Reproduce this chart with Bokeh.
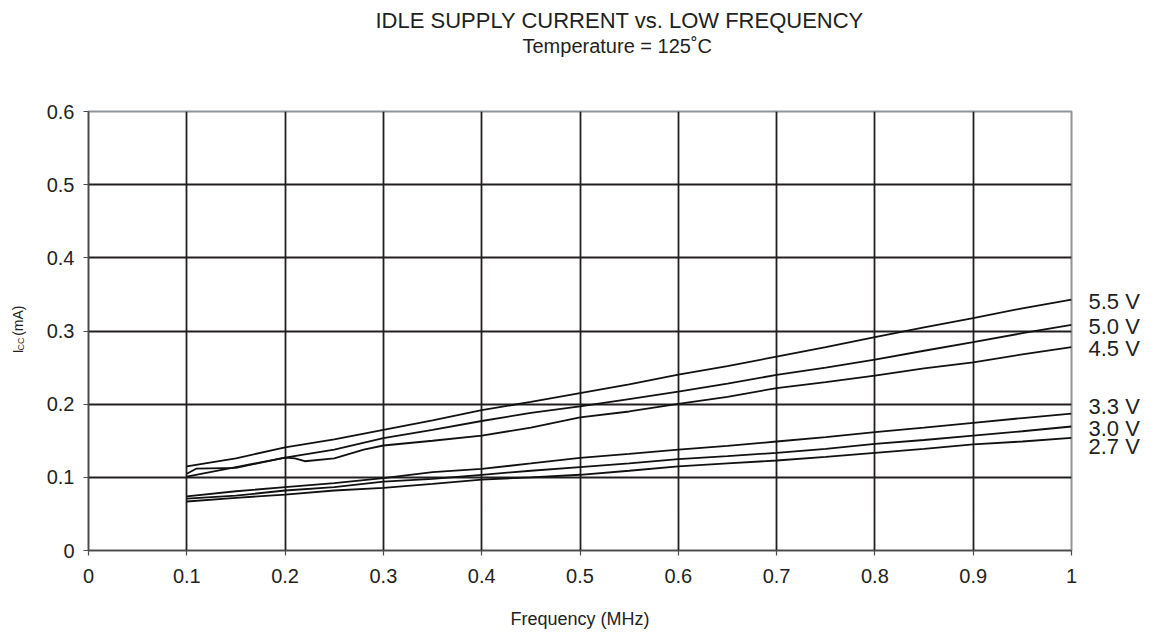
import math
from bokeh.plotting import figure
from bokeh.models import Range1d, FixedTicker, Label, LinearAxis, Title
from bokeh.layouts import row
from bokeh.embed import file_html
from bokeh.resources import INLINE

# ---------------- data ----------------
title_text = "IDLE SUPPLY CURRENT vs. LOW FREQUENCY"
subtitle_text = "Temperature = 125\u02daC"
x_label = "Frequency (MHz)"

x_ticks = [0, 0.1, 0.2, 0.3, 0.4, 0.5, 0.6, 0.7, 0.8, 0.9, 1]
x_tick_labels = ["0", "0.1", "0.2", "0.3", "0.4", "0.5", "0.6", "0.7", "0.8", "0.9", "1"]
y_ticks = [0, 0.1, 0.2, 0.3, 0.4, 0.5, 0.6]
y_tick_labels = ["0", "0.1", "0.2", "0.3", "0.4", "0.5", "0.6"]

freq = [0.1, 0.15, 0.2, 0.25, 0.3, 0.35, 0.4, 0.45, 0.5, 0.55, 0.6,
        0.65, 0.7, 0.75, 0.8, 0.85, 0.9, 0.95, 1.0]
i_55 = [0.115, 0.126, 0.141, 0.152, 0.165, 0.178, 0.192, 0.203, 0.215, 0.227, 0.2405,
        0.252, 0.265, 0.278, 0.2915, 0.305, 0.3175, 0.331, 0.343]
i_50 = [0.101, 0.114, 0.127, 0.138, 0.1535, 0.165, 0.177, 0.188, 0.197, 0.207, 0.217,
        0.228, 0.240, 0.250, 0.261, 0.273, 0.2847, 0.297, 0.3085]
freq_45 = [0.1, 0.11, 0.15, 0.2, 0.21, 0.22, 0.25, 0.28, 0.3, 0.35, 0.4, 0.45, 0.5,
           0.55, 0.6, 0.65, 0.7, 0.75, 0.8, 0.85, 0.9, 0.95, 1.0]
i_45 = [0.105, 0.112, 0.113, 0.127, 0.126, 0.122, 0.126, 0.138, 0.1435, 0.150, 0.157,
        0.168, 0.182, 0.190, 0.2005, 0.210, 0.222, 0.230, 0.239, 0.249, 0.257, 0.268, 0.278]
i_33 = [0.074, 0.081, 0.0865, 0.092, 0.099, 0.107, 0.1115, 0.119, 0.1267, 0.132, 0.138,
        0.143, 0.149, 0.155, 0.1617, 0.168, 0.1745, 0.181, 0.187]
i_30 = [0.071, 0.075, 0.082, 0.0865, 0.094, 0.098, 0.1035, 0.109, 0.114, 0.119, 0.125,
        0.129, 0.1335, 0.139, 0.1458, 0.151, 0.157, 0.163, 0.1695]
i_27 = [0.067, 0.072, 0.0765, 0.082, 0.0857, 0.091, 0.097, 0.100, 0.1035, 0.109, 0.115,
        0.119, 0.123, 0.128, 0.1335, 0.139, 0.145, 0.149, 0.154]

series_names = ["5.5 V", "5.0 V", "4.5 V", "3.3 V", "3.0 V", "2.7 V"]
series_x = [freq, freq, freq_45, freq, freq, freq]
series_y = [i_55, i_50, i_45, i_33, i_30, i_27]
# vertical placement of the right-hand labels (data units)
label_y = [0.3403, 0.3062, 0.2765, 0.1968, 0.1671, 0.1421]

# ---------------- layout constants ----------------
FONT = "Liberation Sans"
TXT = "#231f20"
W, H = 1168, 634
LW = 32  # width of the strip that holds the y-axis title

# ---------------- main figure ----------------
p = figure(width=W - LW, height=H, output_backend="svg", toolbar_location=None,
           x_range=Range1d(0, 1), y_range=Range1d(0, 0.6),
           min_border_left=88 - LW, min_border_right=97, min_border_top=111,
           min_border_bottom=84)
p.background_fill_color = "white"
p.border_fill_color = "white"
p.outline_line_color = "#8f959c"
p.outline_line_width = 2

p.xgrid.ticker = FixedTicker(ticks=x_ticks[1:-1])
p.ygrid.ticker = FixedTicker(ticks=y_ticks[1:-1])
for g in (p.xgrid, p.ygrid):
    g.grid_line_color = "#231f20"
    g.grid_line_width = 1.8
    g.grid_line_alpha = 1.0

p.xaxis.ticker = FixedTicker(ticks=x_ticks)
p.yaxis.ticker = FixedTicker(ticks=y_ticks)
p.xaxis.major_label_overrides = {t: l for t, l in zip(x_ticks, x_tick_labels)}
p.yaxis.major_label_overrides = {t: l for t, l in zip(y_ticks, y_tick_labels)}
for ax in (p.xaxis, p.yaxis):
    ax.axis_line_color = "#4a4a4a"
    ax.axis_line_width = 1.5
    ax.major_tick_line_color = "#4a4a4a"
    ax.major_tick_line_width = 1.2
    ax.major_tick_out = 5
    ax.major_tick_in = 0
    ax.minor_tick_line_color = None
    ax.major_label_text_font = FONT
    ax.major_label_text_font_size = "20px"
    ax.major_label_text_color = TXT
p.xaxis.major_label_standoff = 13
p.yaxis.major_label_standoff = 9
p.xaxis.axis_label = x_label
p.xaxis.axis_label_text_font = FONT
p.xaxis.axis_label_text_font_size = "18px"
p.xaxis.axis_label_text_font_style = "normal"
p.xaxis.axis_label_text_color = TXT
p.xaxis.axis_label_standoff = 23

# right-hand voltage labels as a line-less axis
rax = LinearAxis(ticker=FixedTicker(ticks=label_y),
                 major_label_overrides={t: n for t, n in zip(label_y, series_names)})
rax.axis_line_color = None
rax.major_tick_line_color = None
rax.minor_tick_line_color = None
rax.major_label_standoff = 11
rax.major_label_text_font = FONT
rax.major_label_text_font_size = "22px"
rax.major_label_text_color = TXT
p.add_layout(rax, "right")

for xs, ys in zip(series_x, series_y):
    p.line(xs, ys, line_color="#111111", line_width=1.8)

# titles (last added is outermost); a blank spacer pushes them to the top
p.add_layout(Title(text=" ", text_font_size="47px", standoff=0), "above")
p.add_layout(Title(text=subtitle_text, text_font=FONT, text_font_size="20px",
                   text_font_style="normal", text_color=TXT, align="left",
                   offset=434, standoff=0), "above")
p.add_layout(Title(text=title_text, text_font=FONT, text_font_size="22px",
                   text_font_style="normal", text_color=TXT, align="left",
                   offset=287, standoff=0), "above")

# ---------------- strip with the y-axis title  I_CC (mA) ----------------
lab = figure(width=LW, height=H, output_backend="svg", toolbar_location=None,
             x_range=Range1d(0, LW), y_range=Range1d(H, 0),
             x_axis_type=None, y_axis_type=None, min_border=0)
lab.grid.visible = False
lab.outline_line_color = None
lab.background_fill_color = "white"
lab.border_fill_color = "white"
ang = math.pi / 2
lab.add_layout(Label(x=17, y=349, text="I", angle=ang, text_font=FONT,
                     text_font_size="14px", text_color=TXT,
                     text_align="left", text_baseline="middle"))
lab.add_layout(Label(x=20, y=345, text="CC", angle=ang, text_font=FONT,
                     text_font_size="9px", text_color=TXT,
                     text_align="left", text_baseline="middle"))
lab.add_layout(Label(x=17, y=324, text="(mA)", angle=ang, text_font=FONT,
                     text_font_size="14px", text_color=TXT,
                     text_align="left", text_baseline="middle"))

layout = row(lab, p, spacing=0)
open("out.html", "w").write(file_html(layout, INLINE))
